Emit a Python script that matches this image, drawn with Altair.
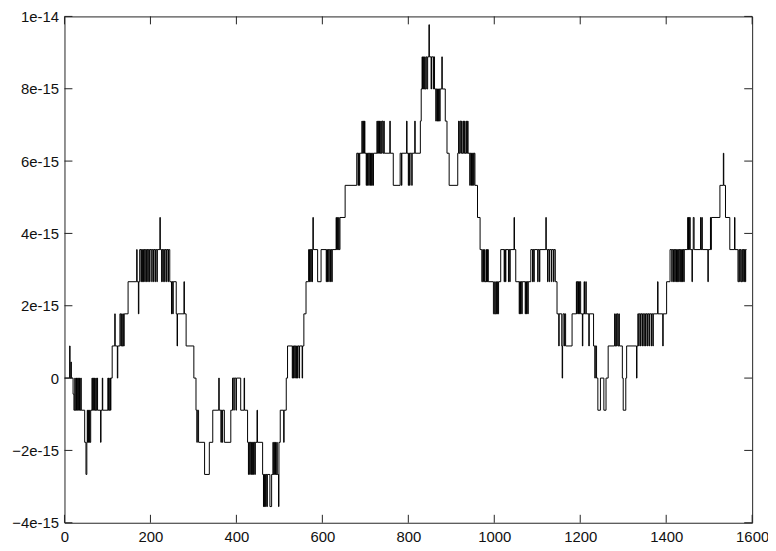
import json
import altair as alt
import pandas as pd

# error level in units of one ulp near 1 (2^-50)
QUANTUM = 2.0 ** -50

# Step change points (x where a new level starts) and the level (in QUANTUM units)
SEG_A_X = [0, 12, 13, 15, 16, 20, 22, 24, 25, 27, 28, 29, 30, 32, 33, 35, 36, 38, 39, 47, 50, 52, 53, 54, 55, 56, 58, 59,
           61, 64, 65, 67, 68, 70, 71, 73, 74, 76, 77, 84, 85, 88, 89, 101, 102, 103, 104, 106, 107, 108, 111, 117, 118,
           123, 124, 129, 131, 133, 134, 136, 137, 139, 148, 168, 169, 172, 173, 175, 178, 179, 181, 182, 184, 185, 187,
           188, 191, 192, 194, 195, 198, 199, 203, 204, 207, 208, 211, 212, 215, 216, 222, 223, 226, 227, 229, 230, 233,
           234, 237, 238, 241, 242, 245, 249, 250, 252, 253, 260, 262, 263, 278, 279, 283]
SEG_A_L = [0, 1, 0, 0.5, 0, -0.5, -1, 0, -1, 0, -1, 0, -1, 0, -1, 0, -1, 0, -1, -2, -3, -2, -1, -2, -1, -2, -1, -2,
           -1, 0, -1, 0, -1, 0, -1, 0, -1, 0, -1, -2, -1, 0, -1, 0, -1, 0, -1, 0, -1, 0, 1, 2, 1,
           0, 1, 2, 1, 2, 1, 2, 1, 2, 3, 4, 3, 2, 3, 4, 3, 4, 3, 4, 3, 4, 3,
           4, 3, 4, 3, 4, 3, 4, 3, 4, 3, 4, 3, 4, 3, 4, 5, 4, 3, 4, 3, 4, 3,
           4, 3, 4, 3, 4, 3, 2, 3, 2, 3, 2, 1, 2, 3, 2, 1]

SEG_B_X = [301, 306, 308, 309, 312, 326, 337, 345, 359, 360, 364, 365, 367, 368, 372, 387, 391, 394, 395, 399, 400, 410,
           418, 419, 426, 428, 429, 431, 432, 434, 435, 437, 438, 440, 441, 443, 444, 448, 449, 461, 463, 464, 465, 466,
           468, 469, 471, 472, 478, 482, 485, 486, 488, 489, 491, 492, 494, 495, 498, 499, 502, 510, 511, 516, 519, 530,
           531, 533, 534, 536, 537, 539, 540, 542, 543, 546, 547, 553, 554, 557]
SEG_B_L = [0, -1, -2, -1, -2, -3, -2, -1, 0, -1, -2, -1, -2, -1, -2, -1, 0, -1, 0, -1, 0, -1,
           0, -1, -2, -3, -2, -3, -2, -3, -2, -3, -2, -3, -2, -3, -2, -1, -2, -3, -4, -3, -4, -3,
           -4, -3, -4, -3, -4, -3, -2, -3, -2, -3, -2, -3, -2, -3, -4, -2, -1, -2, -1, 0, 1, 0,
           1, 0, 1, 0, 1, 0, 1, 0, 1, 0, 1, 0, 1, 2]

SEG_C_X = [562, 568, 570, 571, 573, 574, 576, 577, 578, 579, 589, 597, 609, 610, 612, 613, 615, 616, 619, 620, 622, 623,
           632, 633, 635, 636, 638, 639, 641, 653, 680, 683, 684, 686, 687, 692, 693, 695, 696, 698, 699, 702, 703, 705,
           706, 708, 709, 711, 712, 714, 715, 717, 719, 727, 728, 730, 731, 733, 734, 736, 737, 739, 741, 743, 744, 757,
           758, 765, 781, 784, 785, 796, 797, 800, 801, 803, 804, 808, 809, 815, 816, 828, 830, 832, 833, 835, 836, 838,
           839, 841, 843, 845, 848, 849, 853, 854, 858, 859, 861, 864, 865, 867, 868, 870, 871, 873, 874, 878, 879, 886,
           890, 895, 915, 917, 918, 920, 922, 924, 925, 928, 929, 931, 932, 935, 936, 938, 939, 943, 944, 946, 947, 949,
           950, 952, 953, 955, 961]
SEG_C_L = [3, 4, 3, 4, 3, 4, 3, 4, 5, 4, 3, 4, 3, 4, 3, 4, 3, 4, 3, 4, 3, 4,
           5, 4, 5, 4, 5, 4, 5, 6, 7, 6, 7, 6, 7, 8, 7, 8, 7, 8, 7, 6, 7, 6,
           7, 6, 7, 6, 7, 6, 7, 6, 7, 8, 7, 8, 7, 8, 7, 8, 7, 8, 7, 8, 7, 8,
           7, 6, 7, 6, 7, 8, 7, 6, 7, 6, 7, 6, 7, 8, 7, 8, 9, 10, 9, 10, 9, 10,
           9, 10, 9, 10, 11, 10, 9, 10, 9, 10, 9, 8, 9, 8, 9, 8, 9, 8, 9, 10, 9, 8,
           7, 6, 7, 8, 7, 8, 7, 8, 7, 8, 7, 8, 7, 8, 7, 8, 7, 6, 7, 6, 7, 6,
           7, 6, 7, 6, 5]

SEG_D_X = [967, 971, 973, 975, 977, 978, 981, 982, 983, 984, 985, 986, 998, 1001, 1002, 1004, 1005, 1007, 1008, 1010,
           1015, 1023, 1024, 1026, 1027, 1033, 1034, 1036, 1037, 1046, 1047, 1050, 1058, 1059, 1061, 1062, 1064, 1065,
           1072, 1073, 1075, 1076, 1078, 1079, 1085, 1089, 1090, 1092, 1093, 1101, 1102, 1105, 1106, 1120, 1121, 1124,
           1125, 1128, 1129, 1133, 1134, 1138, 1139, 1142, 1146, 1150, 1151, 1157, 1158, 1159, 1160, 1163, 1164, 1166,
           1181, 1191, 1192, 1193, 1195, 1196, 1198, 1199, 1201, 1205, 1206, 1209, 1210, 1213, 1214, 1220, 1221, 1231,
           1234, 1235, 1238, 1241, 1247, 1255, 1260, 1265, 1280, 1281, 1283, 1284, 1286, 1288, 1290, 1291, 1298, 1300,
           1306, 1308, 1331, 1332, 1334, 1336, 1337, 1340, 1341, 1344, 1345, 1348, 1349, 1352, 1353, 1356, 1357, 1360,
           1361, 1365, 1366, 1369, 1370, 1380, 1381, 1392, 1393, 1401, 1409, 1413, 1414, 1417, 1418, 1420, 1421, 1423,
           1424, 1426, 1427, 1429, 1430, 1432, 1433, 1435, 1436, 1438, 1439, 1441, 1442, 1450, 1451, 1452, 1453, 1454,
           1456, 1460, 1461, 1463, 1465, 1480, 1481, 1483, 1484, 1497, 1498, 1503, 1504, 1505, 1525, 1533, 1534, 1538,
           1548, 1559, 1560, 1567, 1569, 1571, 1572, 1574, 1576, 1578, 1579, 1581, 1582, 1584, 1585, 1587]
SEG_D_L = [4, 3, 4, 3, 4, 3, 4, 3, 4, 3, 4, 3, 2, 3, 2, 3, 2, 3, 2, 3,
           4, 3, 4, 3, 4, 3, 4, 3, 4, 5, 4, 3, 2, 3, 2, 3, 2, 3,
           2, 3, 2, 3, 2, 3, 4, 3, 4, 3, 4, 3, 4, 3, 4, 5, 4, 3,
           4, 3, 4, 3, 4, 3, 4, 3, 2, 1, 2, 1, 0, 1, 2, 1, 2, 1,
           2, 3, 2, 3, 2, 3, 2, 3, 2, 1, 2, 3, 2, 3, 2, 1, 2, 1,
           0, 1, 0, -1, 0, -1, 0, 1, 2, 1, 2, 1, 2, 1, 2, 1, 0, -1,
           0, 1, 0, 1, 2, 1, 2, 1, 2, 1, 2, 1, 2, 1, 2, 1, 2, 1,
           2, 1, 2, 1, 2, 3, 2, 1, 2, 3, 4, 3, 4, 3, 4, 3, 4, 3,
           4, 3, 4, 3, 4, 3, 4, 3, 4, 3, 4, 3, 4, 5, 4, 5, 4, 5,
           4, 3, 4, 5, 4, 5, 4, 5, 4, 3, 4, 5, 4, 5, 6, 7, 6, 5,
           4, 5, 4, 3, 4, 3, 4, 3, 4, 3, 4, 3, 4, 3, 4, 4]

X_TICKS = [0, 200, 400, 600, 800, 1000, 1200, 1400, 1600]
Y_TICKS = [-4e-15, -2e-15, 0, 2e-15, 4e-15, 6e-15, 8e-15, 1e-14]
Y_LABELS = ["\u22124e-15", "\u22122e-15", "0", "2e-15", "4e-15", "6e-15", "8e-15", "1e-14"]

xs = SEG_A_X + SEG_B_X + SEG_C_X + SEG_D_X
ls = SEG_A_L + SEG_B_L + SEG_C_L + SEG_D_L
df = pd.DataFrame({"x": xs, "y": [v * QUANTUM for v in ls]})

W, H = 694, 511
FONT = "Liberation Sans"
FS = 15
TICK = 8

xscale = alt.Scale(domain=[0, 1600], nice=False, zero=False)
yscale = alt.Scale(domain=[-4e-15, 1e-14], nice=False, zero=False)

label_expr = json.dumps(Y_LABELS, ensure_ascii=False) + "[round(datum.value / 2e-15) + 2]"

x_axis = alt.Axis(values=X_TICKS, title=None, domain=False, ticks=False, tickSize=0, grid=False,
                  labelPadding=7, labelFlush=False, labelOverlap=False, labelFont=FONT,
                  labelFontSize=FS, labelColor="#111", format="d")
y_axis = alt.Axis(values=Y_TICKS, title=None, domain=False, ticks=False, tickSize=0, grid=False,
                  labelPadding=6, labelFlush=False, labelOverlap=False, labelFont=FONT,
                  labelFontSize=FS, labelColor="#111", labelExpr=label_expr)

line = alt.Chart(df).mark_line(interpolate="step-after", color="black", strokeWidth=1, clip=True).encode(
    x=alt.X("x:Q", scale=xscale, axis=x_axis),
    y=alt.Y("y:Q", scale=yscale, axis=y_axis),
)

xt = pd.DataFrame({"x": X_TICKS})
yt = pd.DataFrame({"y": Y_TICKS})
tick_style = dict(color="#222", strokeWidth=1)

bottom_ticks = alt.Chart(xt).mark_rule(**tick_style).encode(
    x=alt.X("x:Q", scale=xscale, axis=x_axis), y=alt.value(H), y2=alt.value(H - TICK))
top_ticks = alt.Chart(xt).mark_rule(**tick_style).encode(
    x=alt.X("x:Q", scale=xscale, axis=x_axis), y=alt.value(0), y2=alt.value(TICK))
left_ticks = alt.Chart(yt).mark_rule(**tick_style).encode(
    y=alt.Y("y:Q", scale=yscale, axis=y_axis), x=alt.value(0), x2=alt.value(TICK))
right_ticks = alt.Chart(yt).mark_rule(**tick_style).encode(
    y=alt.Y("y:Q", scale=yscale, axis=y_axis), x=alt.value(W), x2=alt.value(W - TICK))

chart = alt.layer(line, bottom_ticks, top_ticks, left_ticks, right_ticks).properties(
    width=W, height=H,
    padding={"left": 57, "top": 6, "right": 16, "bottom": 24},
    autosize=alt.AutoSizeParams(type="none"),
    background="white",
).configure_view(stroke="#222", strokeWidth=1)

chart.save("out.html", embed_options={"renderer": "svg", "actions": False})
